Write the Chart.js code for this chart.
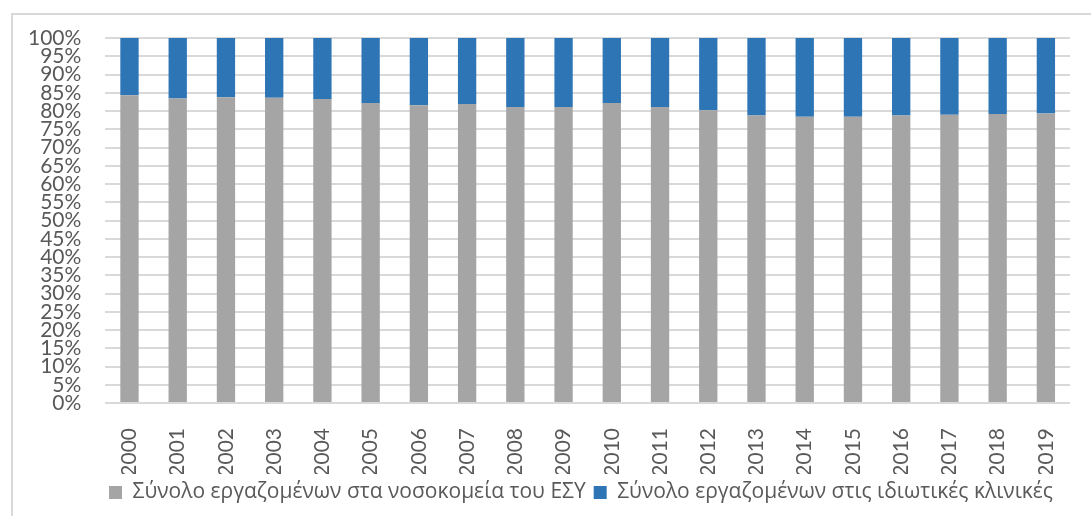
<!DOCTYPE html>
<html>
<head>
<meta charset="utf-8">
<script src="https://cdn.jsdelivr.net/npm/chart.js@4/dist/chart.umd.min.js"></script>
<style>
  html, body { margin: 0; padding: 0; background: #fff; }
  #wrap { position: relative; width: 1091px; height: 516px; overflow: hidden; }
  #frame { position: absolute; left: 11px; top: 13px; width: 1200px; height: 600px;
           border-left: 2px solid #d9d9d9; border-top: 2px solid #d9d9d9; box-sizing: border-box; }
  canvas { position: absolute; left: 0; top: 0; }
</style>
</head>
<body>
<div id="wrap">
  <div id="frame"></div>
  <canvas id="c" width="1091" height="516"></canvas>
</div>
<script>
const years = ["2000","2001","2002","2003","2004","2005","2006","2007","2008","2009",
               "2010","2011","2012","2013","2014","2015","2016","2017","2018","2019"];
const esyShare = [84.3, 83.4, 83.8, 83.6, 83.3, 82.2, 81.6, 81.9, 81.1, 81.1,
                  82.2, 81.1, 80.2, 78.8, 78.4, 78.4, 78.8, 79.0, 79.2, 79.3];
const privateShare = esyShare.map(v => +(100 - v).toFixed(1));
const seriesNames = ["Σύνολο εργαζομένων στα νοσοκομεία του ΕΣΥ",
                     "Σύνολο εργαζομένων στις ιδιωτικές κλινικές"];

const FONT = "'Open Sans', sans-serif";
const TICKFONT = "Lato, 'Open Sans', sans-serif";
const TXT = "#595959";

const legendShift = {
  id: "legendShift",
  afterLayout(chart) {
    const lg = chart.legend;
    if (lg) { lg.left += 44; lg.right += 44; }
  }
};

new Chart(document.getElementById("c"), {
  type: "bar",
  data: {
    labels: years,
    datasets: [
      { label: seriesNames[0], data: esyShare, backgroundColor: "#A5A5A5",
        categoryPercentage: 1, barPercentage: 0.38 },
      { label: seriesNames[1], data: privateShare, backgroundColor: "#2E75B6",
        categoryPercentage: 1, barPercentage: 0.38 }
    ]
  },
  plugins: [legendShift],
  options: {
    responsive: false,
    animation: false,
    layout: { padding: { left: 4, right: 21, top: 38, bottom: 3 } },
    plugins: {
      legend: {
        position: "bottom",
        labels: {
          color: TXT,
          font: { family: FONT, size: 21 },
          boxWidth: 13, boxHeight: 13, padding: 8
        }
      },
      tooltip: { enabled: false }
    },
    scales: {
      x: {
        stacked: true,
        grid: { display: false },
        border: { display: false },
        afterFit(scale) { scale.height = 71; },
        ticks: {
          color: TXT, font: { family: TICKFONT, size: 21 },
          maxRotation: 90, minRotation: 90, autoSkip: false, padding: 17
        }
      },
      y: {
        stacked: true,
        min: 0, max: 100,
        grid: { color: "#d9d9d9", lineWidth: 2, drawTicks: false },
        border: { display: false },
        ticks: {
          stepSize: 5, autoSkip: false, color: TXT,
          font: { family: TICKFONT, size: 21, lineHeight: 0.9 }, padding: 24,
          callback: v => v + "%"
        }
      }
    }
  }
});
</script>
</body>
</html>
